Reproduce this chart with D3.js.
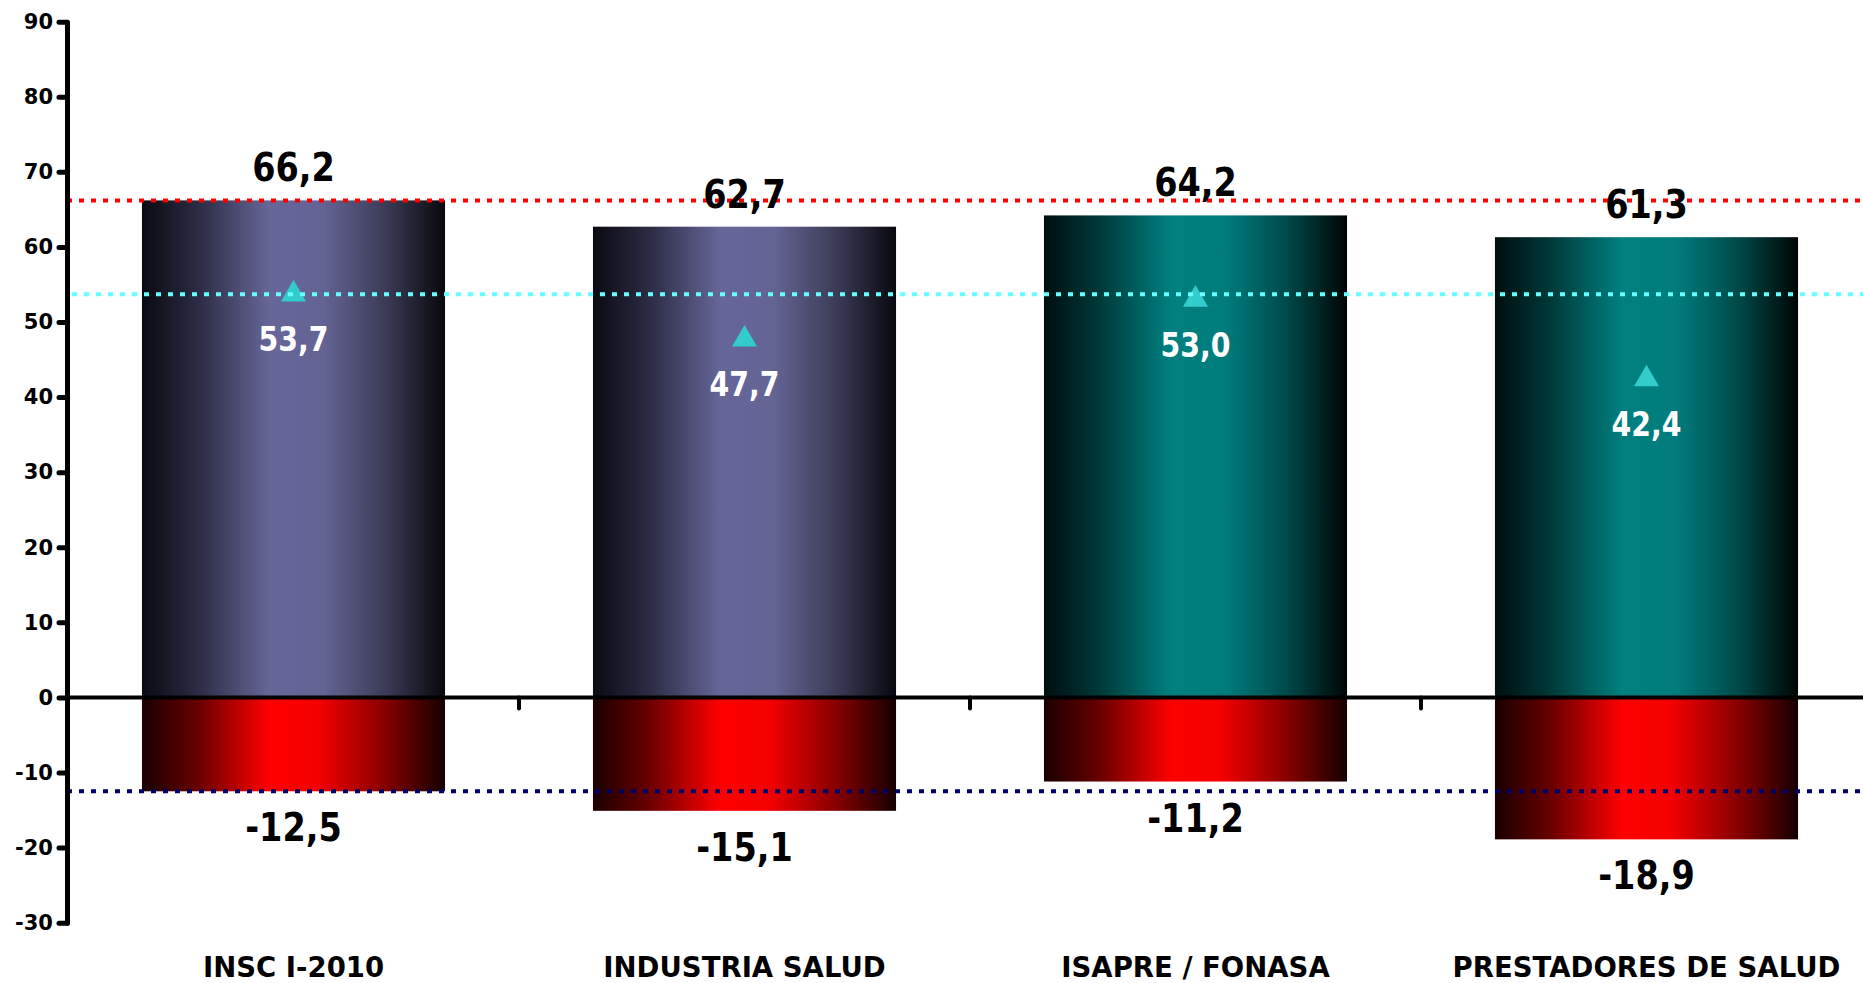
<!DOCTYPE html>
<html>
<head>
<meta charset="utf-8">
<script src="https://cdn.jsdelivr.net/npm/d3@7"></script>
<style>
  body { margin: 0; background: #fff; }
  text { font-family: "DejaVu Sans", Verdana, sans-serif; font-weight: bold; }
</style>
</head>
<body>
<div id="chart"></div>
<script>
(function() {
  var categories = ["INSC I-2010", "INDUSTRIA SALUD", "ISAPRE / FONASA", "PRESTADORES DE SALUD"];
  var positives = [66.2, 62.7, 64.2, 61.3];
  var negatives = [-12.5, -15.1, -11.2, -18.9];
  var markers = [53.7, 47.7, 53.0, 42.4];
  var barStyle = ["purple", "purple", "teal", "teal"];
  var refLines = [
    { value: 66.2, color: "#ff0000" },
    { value: 53.7, color: "#66ffff" },
    { value: -12.5, color: "#000066" }
  ];
  var yTicks = [-30, -20, -10, 0, 10, 20, 30, 40, 50, 60, 70, 80, 90];

  var width = 1863, height = 983;

  var svg = d3.select("#chart")
    .append("svg")
    .attr("width", width)
    .attr("height", height);

  var defs = svg.append("defs");
  function addGradient(id, stops) {
    var g = defs.append("linearGradient")
      .attr("id", id)
      .attr("x1", "0%").attr("x2", "100%")
      .attr("y1", "0%").attr("y2", "0%");
    stops.forEach(function(s) {
      g.append("stop").attr("offset", s[0]).attr("stop-color", s[1]);
    });
  }
  addGradient("grad-purple", [["0%", "#0a0a12"], ["18%", "#2a2a42"], ["42%", "#666699"], ["60%", "#636394"], ["80%", "#3c3c58"], ["100%", "#08080e"]]);
  addGradient("grad-teal", [["0%", "#000e0e"], ["18%", "#003838"], ["42%", "#008080"], ["60%", "#007c7c"], ["80%", "#004a4a"], ["100%", "#000505"]]);
  addGradient("grad-red", [["0%", "#1a0000"], ["18%", "#660000"], ["42%", "#ff0000"], ["58%", "#f50000"], ["80%", "#880000"], ["100%", "#150000"]]);

  var xLeft = 68;
  var xPositionScale = d3.scaleBand()
    .domain(categories)
    .range([xLeft, xLeft + 451 * categories.length])
    .paddingInner(0.328)
    .paddingOuter(0.164);

  var yPositionScale = d3.scaleLinear()
    .domain([-30, 90])
    .range([922.7, 21.7]);

  var rows = categories.map(function(c, i) {
    return { cat: c, pos: positives[i], neg: negatives[i], mark: markers[i], style: barStyle[i] };
  });

  // positive bars
  svg.selectAll(".bar-pos")
    .data(rows)
    .enter().append("rect")
    .attr("class", "bar-pos")
    .attr("x", function(d) { return xPositionScale(d.cat); })
    .attr("width", xPositionScale.bandwidth())
    .attr("y", function(d) { return yPositionScale(d.pos); })
    .attr("height", function(d) { return yPositionScale(0) - yPositionScale(d.pos); })
    .attr("fill", function(d) { return "url(#grad-" + d.style + ")"; });

  // negative bars
  svg.selectAll(".bar-neg")
    .data(rows)
    .enter().append("rect")
    .attr("class", "bar-neg")
    .attr("x", function(d) { return xPositionScale(d.cat); })
    .attr("width", xPositionScale.bandwidth())
    .attr("y", yPositionScale(0))
    .attr("height", function(d) { return yPositionScale(d.neg) - yPositionScale(0); })
    .attr("fill", "url(#grad-red)");

  // triangles
  var tri = d3.symbol().type(d3.symbolTriangle).size(270);
  svg.selectAll(".marker")
    .data(rows)
    .enter().append("path")
    .attr("class", "marker")
    .attr("d", tri)
    .attr("fill", "#33cccc")
    .attr("transform", function(d) {
      return "translate(" + (xPositionScale(d.cat) + xPositionScale.bandwidth() / 2) + "," + yPositionScale(d.mark) + ")";
    });

  // dotted reference lines
  svg.selectAll(".ref-line")
    .data(refLines)
    .enter().append("line")
    .attr("class", "ref-line")
    .attr("x1", function(d, i) { return i == 1 ? 72 : 67; })
    .attr("x2", width)
    .attr("y1", function(d) { return yPositionScale(d.value); })
    .attr("y2", function(d) { return yPositionScale(d.value); })
    .attr("stroke", function(d) { return d.color; })
    .attr("stroke-width", 4)
    .attr("stroke-dasharray", "5,7");

  // x axis (zero line) with ticks between categories
  var y0 = yPositionScale(0);
  svg.append("line")
    .attr("x1", 67).attr("x2", width)
    .attr("y1", y0).attr("y2", y0)
    .attr("stroke", "black")
    .attr("stroke-width", 4);

  svg.selectAll(".x-tick")
    .data(d3.range(1, categories.length))
    .enter().append("line")
    .attr("class", "x-tick")
    .attr("x1", function(i) { return xPositionScale.range()[0] + xPositionScale.step() * i; })
    .attr("x2", function(i) { return xPositionScale.range()[0] + xPositionScale.step() * i; })
    .attr("y1", y0)
    .attr("y2", y0 + 11)
    .attr("stroke", "black")
    .attr("stroke-width", 4)
    .attr("stroke-linecap", "round");

  // y axis
  var yAxis = d3.axisLeft(yPositionScale)
    .tickValues(yTicks)
    .tickFormat(function(d) { return String(d); })
    .tickSize(8)
    .tickSizeOuter(0)
    .tickPadding(6);

  var yg = svg.append("g")
    .attr("class", "axis y-axis")
    .attr("transform", "translate(67,0)")
    .call(yAxis);

  yg.select(".domain")
    .attr("stroke", "black")
    .attr("stroke-width", 5)
    .attr("stroke-linecap", "round");
  yg.selectAll(".tick line")
    .attr("stroke", "black")
    .attr("stroke-width", 5)
    .attr("stroke-linecap", "round");
  yg.selectAll(".tick text")
    .attr("fill", "black")
    .attr("font-size", "21px")
    .attr("font-family", "DejaVu Sans, Verdana, sans-serif")
    .attr("font-weight", "bold");

  function fmt(v) { return v.toFixed(1).replace(".", ","); }

  // value labels above/below bars
  svg.selectAll(".label-pos")
    .data(rows)
    .enter().append("text")
    .attr("class", "label-pos")
    .attr("text-anchor", "middle")
    .attr("font-size", "39px")
    .attr("fill", "black")
    .attr("transform", function(d) {
      return "translate(" + (xPositionScale(d.cat) + xPositionScale.bandwidth() / 2) + "," + (yPositionScale(d.pos) - 19) + ") scale(0.86,1)";
    })
    .text(function(d) { return fmt(d.pos); });

  svg.selectAll(".label-neg")
    .data(rows)
    .enter().append("text")
    .attr("class", "label-neg")
    .attr("text-anchor", "middle")
    .attr("font-size", "39px")
    .attr("fill", "black")
    .attr("transform", function(d) {
      return "translate(" + (xPositionScale(d.cat) + xPositionScale.bandwidth() / 2) + "," + (yPositionScale(d.neg) + 50) + ") scale(0.86,1)";
    })
    .text(function(d) { return fmt(d.neg); });

  svg.selectAll(".label-mark")
    .data(rows)
    .enter().append("text")
    .attr("class", "label-mark")
    .attr("text-anchor", "middle")
    .attr("font-size", "33px")
    .attr("fill", "white")
    .attr("transform", function(d) {
      return "translate(" + (xPositionScale(d.cat) + xPositionScale.bandwidth() / 2) + "," + (yPositionScale(d.mark) + 57) + ") scale(0.86,1)";
    })
    .text(function(d) { return fmt(d.mark); });

  // category labels
  svg.selectAll(".cat-label")
    .data(categories)
    .enter().append("text")
    .attr("class", "cat-label")
    .attr("text-anchor", "middle")
    .attr("font-size", "29px")
    .attr("fill", "black")
    .attr("transform", function(d) {
      return "translate(" + (xPositionScale(d) + xPositionScale.bandwidth() / 2) + ",977) scale(0.95,1)";
    })
    .text(function(d) { return d; });
})();
</script>
</body>
</html>
